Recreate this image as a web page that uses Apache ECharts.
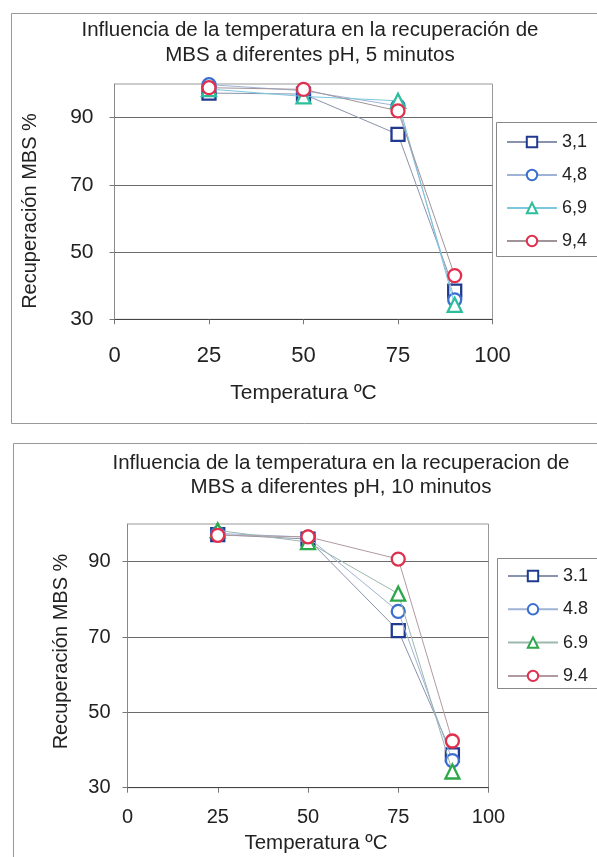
<!DOCTYPE html>
<html><head><meta charset="utf-8">
<script src="https://cdn.jsdelivr.net/npm/echarts@6/dist/echarts.min.js"></script>
<style>html,body{margin:0;padding:0;background:#fff}#c{width:597px;height:857px}</style>
</head><body><div id="c"></div>
<script>
const temps = [25, 50, 75, 90];
const seriesNames1 = ['3,1', '4,8', '6,9', '9,4'];
const seriesNames2 = ['3.1', '4.8', '6.9', '9.4'];
// 5 minutes
const ph31_5 = [97.3, 97, 85, 38.4];
const ph48_5 = [99.8, 98, 93.5, 35.8];
const ph69_5 = [98.5, 96.3, 95, 34.3];
const ph94_5 = [98.9, 98.4, 92, 43];
// 10 minutes
const ph31_10 = [97.2, 96, 71.7, 38.7];
const ph48_10 = [97.5, 96.5, 76.8, 37.2];
const ph69_10 = [98.3, 95.2, 81.5, 34.3];
const ph94_10 = [97, 96.6, 90.7, 42.4];
const xTicks = [0, 25, 50, 75, 100];
const yTicks = [30, 50, 70, 90];

const FONT = 'Liberation Sans';
const symbols = ['rect', 'circle', 'triangle', 'circle'];
const colors1 = ['#1f3a8f', '#3a6fd0', '#2dbf9c', '#e0304e'];
const colors2 = ['#1f3a8f', '#3a6fd0', '#2ca84a', '#e0304e'];
const lineColors1 = ['#8a93ad', '#9fb3d6', '#7cc6de', '#a0949a'];
const lineColors2 = ['#8a93ad', '#9fb3d6', '#9cb8b0', '#b09aa0'];
const data1 = [ph31_5, ph48_5, ph69_5, ph94_5];
const data2 = [ph31_10, ph48_10, ph69_10, ph94_10];

function mkSeries(names, datas, colors, lcolors, idx) {
  return names.map((n, i) => ({
    name: n, type: 'line', xAxisIndex: idx, yAxisIndex: idx,
    data: temps.map((t, k) => [t, datas[i][k]]),
    symbol: symbols[i], symbolSize: i === 0 ? 13 : (i === 2 ? 14 : 13),
    showSymbol: true,
    lineStyle: { color: lcolors[i], width: 1 },
    itemStyle: { color: '#fff', borderColor: colors[i], borderWidth: 2.3 },
    emphasis: { disabled: true },
    z: 3 + i
  }));
}

function xAxis(idx, fs, margin) {
  return {
    type: 'value', gridIndex: idx, min: 0, max: 100, interval: 25,
    axisLine: { show: true, lineStyle: { color: '#444', width: 1 } },
    axisTick: { show: true, length: 5, lineStyle: { color: '#777' } },
    axisLabel: { fontFamily: FONT, fontSize: fs, color: '#222', margin: margin },
    splitLine: { show: false }
  };
}
function yAxis(idx, fs, margin) {
  return {
    type: 'value', gridIndex: idx, min: 30, max: 100, interval: 20,
    axisLine: { show: true, lineStyle: { color: '#888' } },
    axisTick: { show: true, length: 5, customValues: yTicks, lineStyle: { color: '#777' } },
    axisLabel: { fontFamily: FONT, fontSize: fs, color: '#222', margin: margin, customValues: yTicks },
    splitLine: { show: true, lineStyle: { color: '#6b6b6b', width: 1.2 } }
  };
}
function txt(x, y, s, size, rot) {
  return { type: 'text', x: x, y: y, rotation: rot || 0, z: 10,
    style: { text: s, font: size + 'px "Liberation Sans"', fill: '#222', textAlign: 'center', textVerticalAlign: 'middle' } };
}

const chart = echarts.init(document.getElementById('c'), null, { renderer: 'canvas' });
chart.setOption({
  backgroundColor: '#fff',
  animation: false,
  graphic: [
    { type: 'rect', shape: { x: 11.5, y: 13.5, width: 600, height: 410 }, style: { fill: 'none', stroke: '#999', lineWidth: 1 }, z: 0 },
    { type: 'rect', shape: { x: 13.5, y: 443.5, width: 600, height: 430 }, style: { fill: 'none', stroke: '#999', lineWidth: 1 }, z: 0 },
    { type: 'rect', shape: { x: 496.5, y: 122.5, width: 200, height: 134 }, style: { fill: '#fff', stroke: '#888', lineWidth: 1 }, z: 1 },
    { type: 'rect', shape: { x: 497.5, y: 558.5, width: 200, height: 130 }, style: { fill: '#fff', stroke: '#888', lineWidth: 1 }, z: 1 },
    txt(310, 30, 'Influencia de la temperatura en la recuperación de', 20.5),
    txt(310, 55, 'MBS a diferentes pH, 5 minutos', 20.5),
    txt(341, 463, 'Influencia de la temperatura en la recuperacion de', 20.5),
    txt(341, 487, 'MBS a diferentes pH, 10 minutos', 20.5),
    txt(30.5, 211, 'Recuperación MBS %', 20, Math.PI / 2),
    txt(61, 651.5, 'Recuperación MBS %', 20, Math.PI / 2),
    txt(303.5, 393, 'Temperatura ºC', 21),
    txt(316, 843, 'Temperatura ºC', 20.5)
  ],
  grid: [
    { left: 114.5, top: 84, width: 378, height: 235.3, show: true, borderColor: '#999', borderWidth: 1, backgroundColor: '#fff' },
    { left: 127.5, top: 524, width: 361, height: 263.7, show: true, borderColor: '#999', borderWidth: 1, backgroundColor: '#fff' }
  ],
  xAxis: [xAxis(0, 22, 26), xAxis(1, 20, 20)],
  yAxis: [yAxis(0, 21, 21), yAxis(1, 20, 17)],
  legend: [
    { data: seriesNames1, orient: 'vertical', left: 501, top: 128, itemWidth: 50, itemHeight: 13, itemGap: 15,
      textStyle: { fontFamily: FONT, fontSize: 18, color: '#222' }, selectedMode: false, z: 5 },
    { data: seriesNames2, orient: 'vertical', left: 502, top: 562, itemWidth: 50, itemHeight: 13, itemGap: 15.3,
      textStyle: { fontFamily: FONT, fontSize: 18, color: '#222' }, selectedMode: false, z: 5 }
  ],
  series: [].concat(mkSeries(seriesNames1, data1, colors1, lineColors1, 0), mkSeries(seriesNames2, data2, colors2, lineColors2, 1))
});
</script></body></html>
